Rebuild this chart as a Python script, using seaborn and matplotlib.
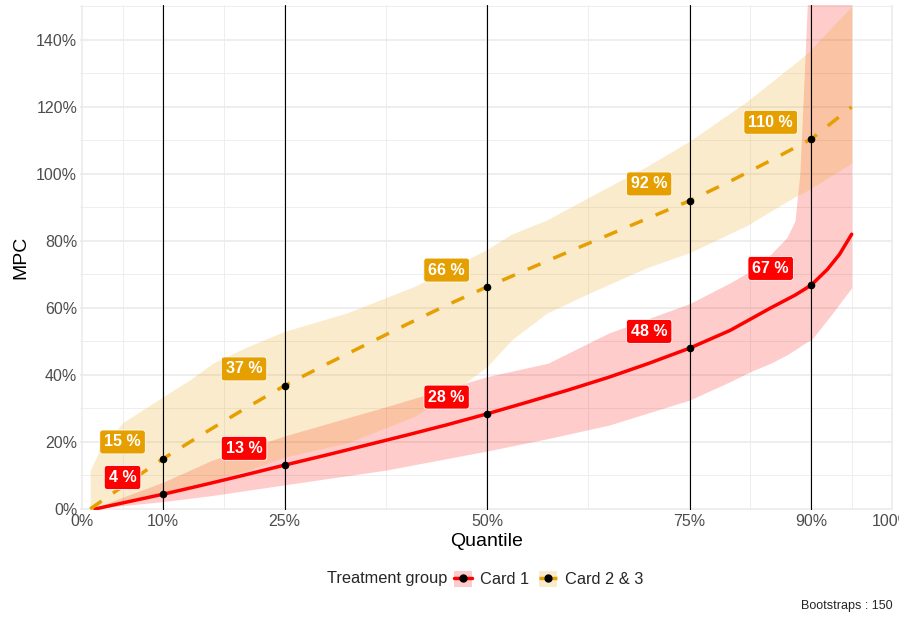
import matplotlib
matplotlib.use("Agg")
import matplotlib.pyplot as plt
from matplotlib.lines import Line2D
from matplotlib.patches import Patch
import numpy as np
import pandas as pd
import seaborn as sns

# Quantiles highlighted with vertical lines and their MPC estimates (%)
quantiles = [10, 25, 50, 75, 90]
mpc_card1 = [4.4, 13.1, 28.4, 48.0, 66.8]
mpc_card23 = [15.0, 36.8, 66.3, 92.0, 110.4]

# Estimated MPC curves (%)
card1_q = [1.6, 5, 10, 15, 20, 25, 30, 35, 40, 45, 50, 55, 60, 65, 70, 75, 80, 85, 88, 90, 92, 93.5, 95]
card1_mpc = [0, 1.8, 4.4, 7.2, 10.1, 13.1, 16.0, 19.0, 22.0, 25.1, 28.4, 31.9, 35.5, 39.3, 43.5,
             48.0, 53.3, 60.0, 63.8, 66.8, 71.5, 76.0, 82.0]
card23_q = [1, 5, 10, 15, 20, 25, 30, 35, 40, 45, 50, 55, 60, 65, 70, 75, 80, 85, 90, 95]
card23_mpc = [0, 6.7, 15.0, 22.5, 29.8, 36.8, 43.0, 49.0, 55.0, 60.8, 66.3, 71.5, 76.7, 81.8, 86.9,
              92.0, 97.8, 104.0, 110.4, 120.0]

# Bootstrap bands (%)
card1_band_q = [1.6, 5, 10, 16, 25, 37.5, 50, 57.5, 65, 75, 80, 82.5, 85, 87, 88, 88.6, 89.1, 89.6, 90, 92.3, 95]
card1_lo = [0, 1.0, 2.2, 4.0, 7.2, 11.6, 17.3, 21.0, 25.0, 32.5, 38.0, 41.0, 43.5, 46.0, 47.5, 48.5,
            49.3, 50.0, 50.4, 57.4, 66.0]
card1_hi = [0.3, 3.5, 8.0, 14.5, 21.8, 30.5, 39.5, 43.5, 52.5, 61.3, 67.5, 71.0, 76.0, 81.0, 86.0, 100.0,
            127.0, 155.0, 155.0, 155.0, 155.0]
card23_band_q = [1, 2.2, 5, 8, 10, 13.3, 16.2, 20.4, 25, 32.7, 41, 45, 50, 53, 57.4, 62.7, 69.7, 75, 82, 88, 89.5, 95]
card23_lo = [0, 0.6, 2.5, 4.0, 5.0, 7.0, 8.8, 11.5, 15.5, 19.7, 27.6, 33.5, 42.5, 50.4, 58.5, 64.5,
             72.0, 76.5, 84.5, 93.2, 95.0, 103.2]
card23_hi = [11.6, 17.6, 25.7, 30.4, 33.5, 38.5, 43.6, 48.4, 53.0, 58.5, 66.4, 71.3, 77.5, 82.0, 86.3,
             93.2, 102.2, 109.8, 121.5, 133.0, 136.0, 150.0]

groups = ["Card 1", "Card 2 & 3"]
colors = {"Card 1": "#FF0000", "Card 2 & 3": "#E69F00"}

x_ticks = [0, 10, 25, 50, 75, 90, 100]
x_ticklabels = ["0%", "10%", "25%", "50%", "75%", "90%", "100%"]
y_ticks = list(range(0, 141, 20))
y_ticklabels = [f"{v}%" for v in y_ticks]

sns.set_theme(style="white")
plt.rcParams["font.family"] = ["Liberation Sans", "DejaVu Sans"]

fig = plt.figure(figsize=(8.99, 6.18), dpi=100)
ax = fig.add_axes([80 / 899, 108 / 618, 813 / 899, 505 / 618])

# bands
ax.fill_between(card1_band_q, card1_lo, card1_hi, color=colors["Card 1"], alpha=0.2, lw=0, zorder=1)
ax.fill_between(card23_band_q, card23_lo, card23_hi, color=colors["Card 2 & 3"], alpha=0.2, lw=0, zorder=1)

# curves
curves = pd.DataFrame({
    "Quantile": card1_q + card23_q,
    "MPC": card1_mpc + card23_mpc,
    "group": ["Card 1"] * len(card1_q) + ["Card 2 & 3"] * len(card23_q),
})
sns.lineplot(data=curves, x="Quantile", y="MPC", hue="group", style="group",
             palette=colors, dashes={"Card 1": "", "Card 2 & 3": (4, 4)},
             linewidth=2.5, estimator=None, sort=True, legend=False, ax=ax, zorder=3)

# vertical quantile lines
for q in quantiles:
    ax.axvline(q, color="black", lw=0.8, zorder=4)

# points at quantiles
pts = pd.DataFrame({"Quantile": quantiles * 2, "MPC": mpc_card1 + mpc_card23})
sns.scatterplot(data=pts, x="Quantile", y="MPC", color="black", s=30, linewidth=0,
                legend=False, ax=ax, zorder=5)

# value labels
for grp, vals in zip(groups, [mpc_card1, mpc_card23]):
    for q, v in zip(quantiles, vals):
        ax.text(q - 5, v + 5, f"{round(v)} %", ha="center", va="center", color="white",
                fontweight="bold", fontsize=11.5, zorder=6,
                bbox=dict(boxstyle="round,pad=0.28,rounding_size=0.2", fc=colors[grp],
                          ec="white", lw=0.6))

ax.set_xlim(-0.25, 100.1)
ax.set_ylim(-0.3, 150.4)
ax.set_xticks(x_ticks)
ax.set_xticklabels(x_ticklabels)
ax.set_xticks([5, 17.5, 37.5, 62.5, 82.5, 95], minor=True)
ax.set_yticks(y_ticks)
ax.set_yticklabels(y_ticklabels)
ax.set_yticks(list(range(10, 151, 20)), minor=True)
ax.grid(which="major", color="#EBEBEB", lw=1.2)
ax.grid(which="minor", color="#EBEBEB", lw=0.6)
ax.set_axisbelow(True)
for s in ax.spines.values():
    s.set_visible(False)
ax.tick_params(axis="both", which="both", length=0, labelsize=11.5, labelcolor="#4D4D4D")
ax.tick_params(axis="y", pad=2)
ax.tick_params(axis="x", pad=3)
ax.set_xlabel("Quantile", fontsize=14, color="black", labelpad=3)
ax.set_ylabel("MPC", fontsize=14, color="black", labelpad=5)

# legend
fig.text(447 / 899, 1 - 579 / 618, "Treatment group", ha="right", va="center", fontsize=11.8)
handles = [
    (Patch(fc=colors["Card 1"], alpha=0.2, lw=0),
     Line2D([], [], color=colors["Card 1"], lw=2.5),
     Line2D([], [], marker="o", color="black", ls="", ms=5)),
    (Patch(fc=colors["Card 2 & 3"], alpha=0.2, lw=0),
     Line2D([], [], color=colors["Card 2 & 3"], lw=2.5, ls=(0, (1.43, 2.29))),
     Line2D([], [], marker="o", color="black", ls="", ms=5)),
]
fig.legend(handles, groups, loc="center left", bbox_to_anchor=(454 / 899, 1 - 579 / 618),
           ncol=2, frameon=False, fontsize=11.8, handlelength=1.1, handleheight=1.1,
           handletextpad=0.5, columnspacing=0.6, borderpad=0, borderaxespad=0)

fig.text(893 / 899, 1 - 606 / 618, "Bootstraps : 150", ha="right", va="center", fontsize=9)

fig.savefig("out.png", dpi=100)
